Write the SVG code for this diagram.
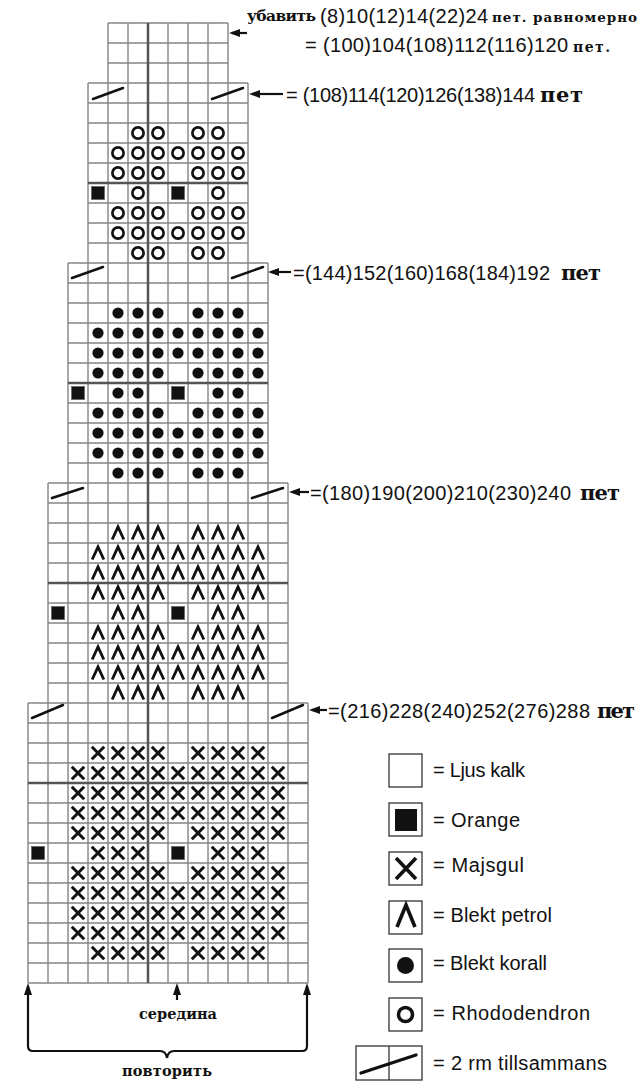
<svg xmlns="http://www.w3.org/2000/svg" xmlns:xlink="http://www.w3.org/1999/xlink" width="643" height="1084" viewBox="0 0 643 1084">
<style>
.grid{fill:none;stroke:#858585;stroke-width:1.4}
.thick{fill:none;stroke:#555;stroke-width:2.5}
.sl{stroke:#111;stroke-width:2.5;stroke-linecap:round;fill:none}
.num{font-family:"Liberation Sans",Arial,sans-serif;font-size:20px;fill:#111}
.ru{font-family:"DejaVu Serif","Liberation Serif",serif;font-weight:bold;fill:#111}
.lg{font-family:"Liberation Sans",Arial,sans-serif;font-size:20px;fill:#111}
.box{fill:#fff;stroke:#333;stroke-width:1.3}
.arr{stroke:#111;stroke-width:2.2;fill:none}
</style>
<defs>
<marker id="ah" viewBox="0 0 11 8" refX="3" refY="4" markerWidth="11" markerHeight="8" markerUnits="userSpaceOnUse" orient="auto"><path d="M0 4L11 0L11 8Z" fill="#111"/></marker>
<marker id="ahb" viewBox="0 0 12 8" refX="3" refY="4" markerWidth="12" markerHeight="8" markerUnits="userSpaceOnUse" orient="auto"><path d="M0 4L12 0L12 8Z" fill="#111"/></marker>
<g id="sX"><path d="M-6.2-6.2L6.2 6.2M6.2-6.2L-6.2 6.2" stroke="#111" stroke-width="3" fill="none"/></g>
<g id="sV"><path d="M-5.8 6.5L0-6.2L5.8 6.5" stroke="#111" stroke-width="2.8" fill="none"/></g>
<g id="sD"><circle r="5.6" fill="#111"/></g>
<g id="sO"><circle r="5.6" fill="none" stroke="#111" stroke-width="2.7"/></g>
<g id="sQ"><rect x="-6.5" y="-6.5" width="13" height="13" fill="#111" stroke="#666" stroke-width="0.8"/></g>
<g id="o4"><use href="#sO" x="138"/><use href="#sO" x="158"/><use href="#sO" x="198"/><use href="#sO" x="218"/></g>
<g id="o6"><use href="#sO" x="118"/><use href="#sO" x="138"/><use href="#sO" x="158"/><use href="#sO" x="198"/><use href="#sO" x="218"/><use href="#sO" x="238"/></g>
<g id="o7"><use href="#o6"/><use href="#sO" x="178"/></g>
<g id="d4"><use href="#sD" x="118"/><use href="#sD" x="138"/><use href="#sD" x="218"/><use href="#sD" x="238"/></g>
<g id="d6"><use href="#d4"/><use href="#sD" x="158"/><use href="#sD" x="198"/></g>
<g id="d8"><use href="#d6"/><use href="#sD" x="98"/><use href="#sD" x="258"/></g>
<g id="d9"><use href="#d8"/><use href="#sD" x="178"/></g>
<g id="v4"><use href="#sV" x="118"/><use href="#sV" x="138"/><use href="#sV" x="218"/><use href="#sV" x="238"/></g>
<g id="v6"><use href="#v4"/><use href="#sV" x="158"/><use href="#sV" x="198"/></g>
<g id="v8"><use href="#v6"/><use href="#sV" x="98"/><use href="#sV" x="258"/></g>
<g id="v9"><use href="#v8"/><use href="#sV" x="178"/></g>
<g id="x6"><use href="#sX" x="98"/><use href="#sX" x="118"/><use href="#sX" x="138"/><use href="#sX" x="218"/><use href="#sX" x="238"/><use href="#sX" x="258"/></g>
<g id="x8"><use href="#x6"/><use href="#sX" x="158"/><use href="#sX" x="198"/></g>
<g id="x10"><use href="#x8"/><use href="#sX" x="78"/><use href="#sX" x="278"/></g>
<g id="x11"><use href="#x10"/><use href="#sX" x="178"/></g>
</defs>
<rect width="643" height="1084" fill="#fff"/>

<g id="section1">
<path class="grid" d="M108 23V83M128 23V83M168 23V83M188 23V83M208 23V83M228 23V83M108 23H228M108 43H228M108 63H228"/>
</g>

<g id="section2">
<path class="grid" d="M88 83V263M108 83V263M128 83V263M168 83V263M188 83V263M208 83V263M228 83V263M248 83V263M88 83H248M88 103H248M88 123H248M88 143H248M88 163H248M88 203H248M88 223H248M88 243H248"/>
<path class="thick" d="M88 183H248"/>
<path class="sl" d="M93 99L123 88M212 99L243 88"/>
<use href="#o4" y="133"/><use href="#o7" y="153"/><use href="#o6" y="173"/>
<use href="#sQ" x="98" y="193"/><use href="#sO" x="138" y="193"/><use href="#sQ" x="178" y="193"/><use href="#sO" x="218" y="193"/>
<use href="#o6" y="213"/><use href="#o7" y="233"/><use href="#o4" y="253"/>
</g>

<g id="section3">
<path class="grid" d="M68 263V483M88 263V483M108 263V483M128 263V483M168 263V483M188 263V483M208 263V483M228 263V483M248 263V483M268 263V483M68 263H268M68 283H268M68 303H268M68 323H268M68 343H268M68 363H268M68 403H268M68 423H268M68 443H268M68 463H268"/>
<path class="thick" d="M68 383H268"/>
<path class="sl" d="M72 278L103 267M232 278L263 267"/>
<use href="#d6" y="313"/><use href="#d9" y="333"/><use href="#d9" y="353"/><use href="#d8" y="373"/>
<use href="#d4" y="393"/><use href="#sQ" x="78" y="393"/><use href="#sQ" x="178" y="393"/>
<use href="#d8" y="413"/><use href="#d9" y="433"/><use href="#d9" y="453"/><use href="#d6" y="473"/>
</g>

<g id="section4">
<path class="grid" d="M48 483V703M68 483V703M88 483V703M108 483V703M128 483V703M168 483V703M188 483V703M208 483V703M228 483V703M248 483V703M268 483V703M288 483V703M48 483H288M48 503H288M48 523H288M48 543H288M48 563H288M48 603H288M48 623H288M48 643H288M48 663H288M48 683H288"/>
<path class="thick" d="M48 583H288"/>
<path class="sl" d="M52 498L83 488M252 498L283 488"/>
<use href="#v6" y="533"/><use href="#v9" y="553"/><use href="#v9" y="573"/><use href="#v8" y="593"/>
<use href="#v4" y="613"/><use href="#sQ" x="58" y="613"/><use href="#sQ" x="178" y="613"/>
<use href="#v8" y="633"/><use href="#v9" y="653"/><use href="#v9" y="673"/><use href="#v6" y="693"/>
</g>

<g id="section5">
<path class="grid" d="M28 703V983M48 703V983M68 703V983M88 703V983M108 703V983M128 703V983M168 703V983M188 703V983M208 703V983M228 703V983M248 703V983M268 703V983M288 703V983M308 703V983M28 703H308M28 723H308M28 743H308M28 763H308M28 803H308M28 823H308M28 843H308M28 863H308M28 883H308M28 903H308M28 923H308M28 943H308M28 963H308M28 983H308"/>
<path class="thick" d="M28 783H308"/>
<path class="sl" d="M32 718L63 705M272 718L303 705"/>
<use href="#x8" y="753"/><use href="#x11" y="773"/><use href="#x11" y="793"/><use href="#x11" y="813"/><use href="#x10" y="833"/>
<use href="#x6" y="853"/><use href="#sQ" x="38" y="853"/><use href="#sQ" x="178" y="853"/>
<use href="#x10" y="873"/><use href="#x11" y="893"/><use href="#x11" y="913"/><use href="#x11" y="933"/><use href="#x8" y="953"/>
</g>

<g id="centerline"><path class="thick" d="M148 23V983"/></g>

<g id="connectors">
<path class="arr" d="M232 33H247" marker-start="url(#ah)"/>
<path class="arr" d="M252 94H283" marker-start="url(#ah)"/>
<path class="arr" d="M271 272H291" marker-start="url(#ah)"/>
<path class="arr" d="M292 492H309" marker-start="url(#ah)"/>
<path class="arr" d="M312 710H327" marker-start="url(#ah)"/>
<path class="arr" d="M28 986V1046Q28 1051 33 1051H160Q166 1051 167 1058" marker-start="url(#ahb)"/>
<path class="arr" d="M307 986V1046Q307 1051 302 1051H174Q168 1051 167 1058" marker-start="url(#ahb)"/>
<path class="arr" d="M177 986V1000" marker-start="url(#ahb)"/>
</g>

<g id="label-top">
<text class="ru" x="247" y="21" font-size="15.5" textLength="69">убавить</text>
<text class="num" x="320" y="23" textLength="168">(8)10(12)14(22)24</text>
<text class="ru" x="492" y="22" font-size="13.5" textLength="145">пет. равномерно</text>
<text class="num" x="305" y="52" textLength="263">= (100)104(108)112(116)120</text>
<text class="ru" x="573" y="52" font-size="14" textLength="37">пет.</text>
</g>
<g id="label-2">
<text class="num" x="286" y="102" textLength="249">= (108)114(120)126(138)144</text>
<text class="ru" x="540" y="102" font-size="21" textLength="43">пет</text>
</g>
<g id="label-3">
<text class="ru" x="561" y="280" font-size="21" textLength="40">пет</text>
<text class="num" x="293" y="280" textLength="257">=(144)152(160)168(184)192</text>
</g>
<g id="label-4">
<text class="num" x="310" y="500" textLength="261">=(180)190(200)210(230)240</text>
<text class="ru" x="580" y="500" font-size="21" textLength="40">пет</text>
</g>
<g id="label-5">
<text class="num" x="328" y="718" textLength="262">=(216)228(240)252(276)288</text>
<text class="ru" x="597" y="718" font-size="21" textLength="38">пет</text>
</g>
<g id="label-bottom">
<text class="ru" x="139" y="1019" font-size="14.5" textLength="78">середина</text>
<text class="ru" x="122" y="1076" font-size="14.5" textLength="90">повторить</text>
</g>

<g id="legend-ljus"><rect class="box" x="389" y="754" width="33" height="33"/><text class="lg" x="433" y="777" textLength="92">= Ljus kalk</text></g>
<g id="legend-orange"><rect class="box" x="389" y="803" width="33" height="33"/><rect x="395" y="809" width="22" height="22" fill="#111"/><text class="lg" x="433" y="827" textLength="87">= Orange</text></g>
<g id="legend-majsgul"><rect class="box" x="389" y="852" width="33" height="33"/><path d="M396 858L416 879M416 858L396 879" stroke="#111" stroke-width="3.6" fill="none"/><text class="lg" x="433" y="872" textLength="91">= Majsgul</text></g>
<g id="legend-petrol"><rect class="box" x="389" y="901" width="33" height="33"/><path d="M397 927L406 905L415 927" stroke="#111" stroke-width="3.6" fill="none"/><text class="lg" x="433" y="922" textLength="119">= Blekt petrol</text></g>
<g id="legend-korall"><rect class="box" x="389" y="949" width="33" height="33"/><circle cx="405.5" cy="965.5" r="8.5" fill="#111"/><text class="lg" x="433" y="970" textLength="114">= Blekt korall</text></g>
<g id="legend-rhodo"><rect class="box" x="389" y="998" width="33" height="33"/><circle cx="405.5" cy="1014.5" r="7" fill="none" stroke="#111" stroke-width="3.5"/><text class="lg" x="433" y="1020" textLength="157">= Rhododendron</text></g>
<g id="legend-2rm"><rect class="box" x="356" y="1046" width="66" height="34"/><path d="M389 1046V1080" stroke="#333" stroke-width="1.3"/><path d="M361 1073L416 1055" stroke="#111" stroke-width="3.3" stroke-linecap="round"/><text class="lg" x="433" y="1070" textLength="174">= 2 rm tillsammans</text></g>
</svg>
